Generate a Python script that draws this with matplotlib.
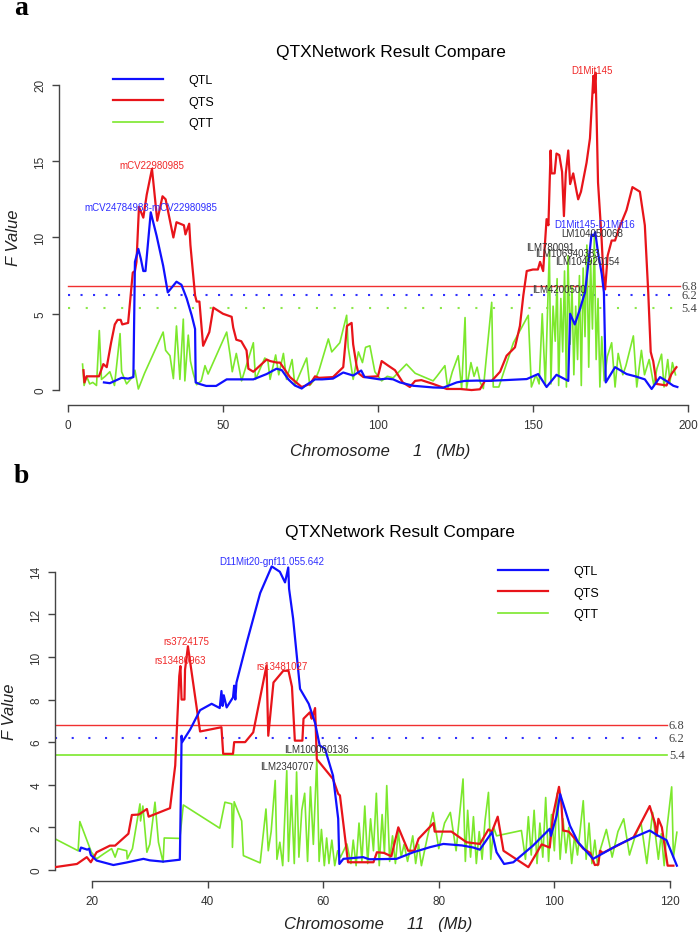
import matplotlib
matplotlib.use("Agg")
import matplotlib.pyplot as plt

plt.rcParams['font.family'] = ['Liberation Sans', 'DejaVu Sans']

W, H = 700, 937

# ---------------- panel a : chromosome 1 ----------------
a_qtl_x = [11.6, 13.5, 16.2, 17.3, 19.4, 21.1, 21.6, 22.7, 23.5, 24.3, 25.0, 26.7, 28.6, 30.7, 32.2,
           33.4, 35.0, 36.6, 38.3, 39.9, 41.0, 41.2, 42.4, 44.6, 47.8, 51.2, 55.0, 59.8, 64.1, 67.3,
           69.0, 71.1, 73.2, 75.4, 77.0, 79.7, 82.0, 85.5, 88.8, 92.0, 94.6, 95.7, 100.6, 103.0, 104.9,
           107.1, 111.4, 117.8, 121.0, 125.4, 128.0, 132.0, 135.0, 141.0, 148.0, 151.7, 154.4, 157.6,
           161.4, 162.0, 163.5, 165.0, 166.8, 168.0, 168.9, 169.6, 170.1, 171.0, 172.2, 172.9, 173.5,
           176.5, 180.2, 183.0, 186.1, 188.3, 191.0, 193.0, 195.3, 196.6]
a_qtl_y = [0.5, 0.45, 0.7, 0.8, 0.75, 0.85, 8.4, 9.25, 8.6, 7.8, 7.8, 11.65, 10.1, 8.15, 6.4,
           6.7, 7.1, 6.9, 6.0, 4.9, 4.0, 0.5, 0.4, 0.27, 0.27, 0.7, 0.7, 0.7, 1.05, 1.4,
           1.3, 0.7, 0.3, 0.1, 0.35, 0.7, 0.7, 0.75, 1.15, 0.95, 1.28, 0.85, 0.7, 0.75, 0.7,
           0.5, 0.28, 0.17, 0.15, 0.5, 0.6, 0.62, 0.6, 0.65, 0.72, 1.05, 0.2, 1.0,
           0.6, 5.0, 4.3, 5.2, 6.4, 8.5, 10.2, 10.1, 10.35, 9.0, 7.6, 6.4, 0.5,
           1.5, 1.05, 0.9, 0.7, 0.07, 0.85, 0.6, 0.28, 0.2]

a_qts_x = [5.0, 5.3, 6.0, 10.0, 11.4, 12.5, 13.9, 15.1, 16.0, 17.0, 17.5, 19.4, 20.9, 21.6, 22.1,
           22.9, 24.3, 25.4, 27.1, 28.8, 30.5, 31.5, 34.0, 35.0, 37.4, 37.9, 39.1, 39.5, 41.0, 41.5,
           42.4, 43.6, 45.6, 46.9, 50.0, 52.8, 53.3, 54.3, 55.9, 57.6, 58.2, 59.8, 63.0, 64.1, 65.2,
           67.4, 68.4, 71.6, 75.4, 78.1, 79.7, 81.0, 85.5, 88.8, 90.0, 91.5, 92.0, 93.1, 93.7, 95.3,
           100.0, 101.2, 103.3, 105.5, 108.0, 110.3, 112.0, 114.0, 117.8, 122.2, 126.5, 130.2, 132.9,
           134.5, 136.7, 139.4, 141.5, 144.2, 145.8, 146.9, 148.0, 150.0, 151.6, 152.3, 153.3, 154.4,
           155.0, 155.7, 156.0, 157.0, 157.6, 158.5, 159.4, 160.0, 160.6, 161.4, 162.0, 163.0, 164.1,
           164.6, 165.5, 167.3, 168.4, 169.5, 169.7, 170.2, 170.5, 171.0, 172.1, 172.7, 173.3, 174.1,
           175.4, 176.5, 177.6, 180.2, 182.1, 184.5, 186.1, 187.2, 188.0, 188.5, 188.8, 189.9, 193.1,
           194.7, 196.3]
a_qts_y = [1.3, 0.5, 0.9, 0.9, 1.7, 1.5, 3.1, 4.3, 4.6, 4.6, 4.3, 4.4, 7.7, 7.8, 8.4,
           12.0, 11.3, 12.8, 14.5, 11.1, 12.7, 12.5, 10.0, 11.0, 10.8, 10.2, 10.9, 9.5, 6.2, 5.8,
           5.8, 2.9, 3.8, 5.4, 5.0, 4.8, 4.1, 3.3, 3.2, 2.6, 1.4, 1.2, 1.8, 2.0, 1.9,
           1.8, 1.8, 0.85, 0.2, 0.4, 0.9, 0.8, 0.85, 1.5, 4.2, 4.4, 3.0, 1.6, 1.1, 0.85,
           0.9, 1.9, 1.6, 1.3, 0.5, 0.2, 0.6, 0.65, 0.4, 0.07, 0.07, 0.0, 0.05,
           0.6, 0.6, 1.2, 2.25, 2.8, 4.2, 6.2, 7.8, 7.9, 7.9, 8.4, 7.8, 11.2,
           10.8, 15.7, 14.2, 14.2, 15.5, 15.4, 14.3, 11.4, 14.2, 15.7, 13.5, 14.2, 13.0,
           12.5, 13.0, 14.9, 16.5, 20.6, 19.5, 20.8, 18.3, 13.6, 10.1, 7.7, 6.6, 8.8,
           9.8, 9.8, 10.5, 11.8, 13.3, 13.0, 10.8, 6.4, 2.5, 2.1, 1.9, 0.4, 0.3,
           1.05, 1.5]

a_qtt_x = [4.7, 5.2, 6.0, 7.0, 8.0, 9.2, 10.1, 10.8, 12.0, 13.5, 15.0, 16.8, 17.3, 18.9, 21.0,
           21.6, 22.7, 24.7, 30.7, 31.5, 32.9, 34.0, 35.0, 36.1, 37.2, 37.7, 38.8, 39.5, 40.4, 41.5,
           43.0, 44.2, 45.2, 51.2, 52.3, 53.0, 54.3, 56.0, 59.8, 60.5, 63.5, 64.5, 65.2, 67.0, 68.0,
           69.5, 70.5, 72.3, 73.2, 77.0, 78.0, 80.0, 81.0, 84.0, 85.1, 87.7, 89.9, 90.4, 92.0, 93.7,
           95.0, 96.0, 97.4, 99.0, 101.2, 103.0, 104.9, 109.2, 112.0, 117.8, 119.0, 121.6, 122.5, 124.0,
           125.9, 127.0, 128.1, 128.6, 130.0, 131.0, 132.0, 133.0, 134.0, 136.7, 137.2, 139.0, 143.7,
           148.5, 149.5, 151.0, 152.0, 153.0, 154.0, 155.3, 155.8, 156.5, 157.2, 157.8, 158.3, 159.0,
           159.6, 160.2, 160.8, 161.3, 162.0, 162.6, 163.2, 163.8, 164.4, 165.0, 165.6, 166.2, 166.8,
           167.4, 168.0, 168.6, 169.2, 169.8, 170.4, 171.0, 171.6, 172.2, 173.0, 174.0, 175.4, 176.5,
           177.5, 179.0, 180.0, 182.4, 183.5, 185.0, 186.0, 187.5, 189.0, 190.0, 191.5, 192.3, 193.5,
           194.2, 195.0, 196.0]
a_qtt_y = [1.7, 0.3, 0.9, 0.4, 0.5, 0.3, 3.9, 0.7, 0.9, 1.2, 0.3, 3.7, 1.2, 0.4, 0.9,
           1.3, 0.07, 1.1, 3.8, 2.6, 2.25, 0.75, 4.2, 0.7, 4.65, 0.6, 3.6, 1.9, 1.1, 0.35,
           0.6, 1.6, 1.05, 3.8, 2.3, 1.2, 2.4, 0.6, 3.1, 0.7, 2.1, 1.9, 0.7, 2.3, 1.0,
           2.4, 0.7, 2.0, 0.3, 2.1, 0.3, 0.8, 1.3, 3.35, 2.5, 3.1, 4.9, 2.8, 0.7, 2.5,
           1.8, 2.8, 2.9, 1.2, 0.6, 0.9, 0.8, 1.7, 1.1, 0.6, 0.9, 1.6, 0.1, 1.2,
           2.25, 0.1, 4.75, 0.1, 1.8, 0.9, 1.5, 0.5, 0.1, 5.75, 0.2, 0.2, 3.1,
           4.9, 0.2, 1.0, 0.4, 5.0, 0.3, 9.2, 0.4, 5.5, 3.2, 7.3, 0.3, 6.0,
           2.5, 7.8, 0.2, 8.8, 3.0, 6.8, 1.0, 5.5, 2.0, 7.5, 0.3, 8.0, 3.5,
           9.5, 1.5, 8.5, 4.0, 10.0, 2.0, 6.0, 0.2, 3.5, 0.6, 2.2, 3.1, 0.2,
           2.4, 1.0, 1.6, 3.55, 0.2, 2.6, 1.0, 2.0, 0.3, 1.4, 2.35, 0.2, 2.0,
           0.5, 1.8, 1.0]

a_thresholds = [6.8, 6.2, 5.4]
a_thr_span = (0.0, 197.5)
a_labels = ["mCV22980985", "mCV24784983-mCV22980985", "D1Mit145", "D1Mit145-D1Mit16",
            "LM104050068", "ILM780091", "ILM106940383", "ILM104920154", "ILM4200500"]
a_label_x = [27.1, 26.6, 169.0, 170.0, 169.0, 155.5, 161.0, 167.7, 158.4]
a_label_y = [14.75, 12.0, 21.0, 10.9, 10.3, 9.4, 9.0, 8.46, 6.6]
a_label_kind = ["QTS", "QTL", "QTS", "QTL", "QTT", "QTT", "QTT", "QTT", "QTT"]

# ---------------- panel b : chromosome 11 ----------------
b_qtl_x = [17.9, 18.1, 19.2, 19.5, 19.8, 20.8, 23.7, 26.0, 28.9, 30.0, 32.3, 35.2, 35.4, 35.5, 35.6,
           37.0, 38.7, 40.7, 42.1, 42.4, 42.6, 42.8, 43.3, 44.4, 44.6, 44.8, 45.0, 46.8, 49.1, 51.1,
           52.5, 53.4, 53.96, 54.1, 54.8, 56.0, 57.5, 58.6, 59.4, 60.3, 61.7, 62.6, 62.8, 63.5, 66.9,
           68.0, 72.7, 75.6, 78.5, 80.8, 84.0, 86.0, 87.1, 89.2, 90.0, 91.3, 92.9, 96.3, 99.2, 99.4,
           100.4, 101.0, 102.7, 104.1, 106.2, 106.7, 110.8, 113.5, 116.5, 118.0, 119.4, 121.2]
b_qtl_y = [0.9, 1.05, 0.95, 1.0, 0.7, 0.44, 0.23, 0.35, 0.52, 0.45, 0.39, 0.48, 3.96, 6.3, 6.0,
           6.6, 7.5, 7.8, 7.6, 8.4, 7.7, 8.2, 7.63, 8.1, 8.65, 8.0, 8.8, 10.7, 13.0, 14.25,
           14.0, 13.5, 14.2, 13.2, 11.8, 8.5, 7.8, 6.9, 5.84, 5.7, 4.43, 2.4, 0.28, 0.52, 0.6,
           0.5, 0.52, 0.83, 1.07, 1.22, 1.15, 1.05, 0.95, 1.77, 0.83, 0.28, 0.36, 1.14, 1.93, 1.6,
           2.55, 3.56, 2.08, 1.3, 0.67, 0.52, 1.14, 1.5, 1.85, 1.6, 1.4, 0.2]

b_qts_x = [13.6, 17.4, 19.1, 19.8, 20.8, 23.1, 24.0, 26.3, 26.9, 28.1, 29.5, 29.8, 33.5, 34.4, 35.1,
           35.3, 35.5, 36.0, 36.1, 36.6, 38.7, 42.4, 42.7, 44.4, 44.6, 46.5, 47.9, 50.2, 50.5, 51.4,
           53.1, 54.0, 54.6, 55.1, 56.4, 56.6, 57.7, 58.0, 58.2, 58.6, 58.9, 61.7, 62.6, 62.9, 64.3,
           68.7, 69.3, 70.5, 71.8, 73.0, 74.7, 75.8, 76.5, 79.1, 79.3, 82.2, 84.8, 87.1, 88.6, 89.2,
           90.2, 91.2, 95.5, 97.8, 99.2, 99.8, 100.8, 101.2, 101.5, 102.5, 103.6, 105.0, 106.2, 107.0,
           107.6, 107.9, 108.4, 113.7, 116.5, 117.4, 117.7, 118.0, 118.6, 119.6, 120.6]
b_qts_y = [0.13, 0.28, 0.6, 0.36, 0.83, 1.14, 1.14, 1.7, 2.58, 2.6, 2.86, 2.5, 2.9, 4.9, 9.1,
           9.57, 8.0, 8.0, 9.4, 10.5, 6.5, 6.7, 5.45, 5.45, 6.0, 6.0, 6.46, 9.6, 6.3, 8.8,
           9.35, 9.35, 8.6, 6.07, 6.07, 7.1, 7.4, 7.1, 7.24, 7.6, 5.2, 4.27, 3.57, 3.5, 0.36,
           0.36, 0.83, 0.8, 0.64, 2.0, 0.9, 0.9, 1.46, 2.2, 1.8, 1.8, 1.3, 1.22, 1.9, 1.8,
           2.5, 0.9, 0.13, 1.2, 1.05, 2.6, 3.9, 3.2, 1.85, 1.8, 1.45, 1.0, 0.8, 0.23,
           0.25, 0.9, 0.8, 1.53, 3.0, 2.2, 1.6, 2.4, 2.0, 0.2, 0.2]

b_qtt_x = [13.6, 17.6, 17.9, 19.9, 20.8, 22.0, 23.4, 24.0, 24.5, 26.0, 26.1, 27.0, 28.0, 28.3, 28.4,
           28.8, 29.5, 30.0, 30.9, 31.5, 32.3, 32.5, 35.2, 35.8, 42.1, 43.0, 44.2, 44.3, 44.6, 45.9,
           46.2, 49.1, 50.1, 50.5, 51.0, 51.7, 52.0, 52.5, 53.0, 53.7, 54.0, 54.5, 55.0, 55.4, 55.8,
           56.3, 56.8, 57.3, 57.8, 58.3, 58.9, 59.3, 59.7, 60.2, 60.6, 61.0, 61.5, 62.0, 62.5, 63.0,
           64.1, 64.8, 65.2, 65.7, 66.2, 66.7, 67.2, 67.7, 68.2, 68.7, 69.2, 69.7, 70.2, 70.6, 71.0,
           71.5, 72.0, 72.5, 73.0, 73.5, 74.0, 74.6, 75.0, 75.5, 76.0, 76.5, 77.0, 78.0, 79.0, 80.0,
           81.0, 82.0, 83.0, 84.2, 84.6, 85.0, 85.5, 86.0, 86.5, 87.0, 87.5, 88.0, 88.6, 89.0, 89.5,
           90.0, 94.3, 95.0, 95.5, 96.0, 96.5, 97.0, 97.5, 98.0, 98.5, 99.0, 99.5, 100.0, 100.5, 101.0,
           101.5, 102.0, 102.5, 103.0, 103.5, 104.0, 105.0, 105.5, 106.0, 106.5, 107.0, 107.5, 108.0,
           109.0, 110.0, 111.0, 112.0, 113.0, 114.0, 115.0, 116.0, 117.0, 118.0, 118.5, 119.0, 119.5,
           120.3, 120.6, 121.2]
b_qtt_y = [1.46, 0.9, 2.27, 0.83, 0.52, 0.75, 1.0, 0.6, 1.0, 0.9, 0.52, 1.0, 2.63, 3.1, 2.3,
           3.0, 0.83, 1.2, 3.18, 1.3, 0.36, 1.5, 1.48, 3.05, 1.96, 3.18, 3.1, 1.06, 3.2, 2.3,
           0.67, 0.33, 2.86, 0.9, 1.8, 4.2, 0.5, 1.3, 0.2, 4.66, 0.4, 3.5, 0.3, 4.6, 0.6,
           2.8, 3.6, 0.4, 3.9, 1.2, 5.2, 0.4, 1.9, 0.2, 1.5, 0.3, 1.4, 0.2, 0.9, 0.6,
           1.22, 0.3, 1.4, 0.2, 2.2, 0.4, 3.0, 0.3, 2.4, 0.9, 3.6, 0.2, 2.6, 0.8, 3.96,
           0.4, 1.6, 0.3, 1.8, 0.6, 1.2, 0.4, 0.9, 1.6, 0.3, 1.2, 0.2, 1.5, 2.7, 1.0,
           2.2, 2.7, 0.9, 4.27, 0.4, 2.8, 0.6, 2.5, 0.3, 1.8, 0.5, 2.3, 3.64, 0.5, 2.0,
           1.6, 1.85, 0.5, 2.5, 0.7, 2.8, 0.3, 2.2, 0.6, 3.4, 0.4, 2.6, 0.9, 3.6, 0.5,
           2.4, 0.8, 2.0, 0.3, 1.6, 0.7, 3.25, 0.5, 2.2, 0.3, 1.4, 0.2, 1.0,
           1.9, 0.6, 1.8, 2.4, 0.7, 1.6, 2.2, 0.3, 2.7, 0.5, 1.7, 0.2, 2.0,
           3.9, 0.6, 1.77]

b_thresholds = [6.8, 6.2, 5.4]
b_thr_span = (13.6, 119.5)
b_labels = ["D11Mit20-gnf11.055.642", "rs3724175", "rs13480963", "rs13481027",
            "ILM100060136", "ILM2340707"]
b_label_x = [51.1, 36.4, 35.2, 52.9, 58.8, 53.7]
b_label_y = [14.5, 10.75, 9.86, 9.58, 5.68, 4.88]
b_label_kind = ["QTL", "QTS", "QTS", "QTS", "QTT", "QTT"]

BLUE, RED, GREEN = '#1010FF', '#E8141A', '#7CE82C'
TXT = {"QTL": '#2D2DFF', "QTS": '#F02828', "QTT": '#333333'}


def fig_box(left, top, right, bottom):
    return [left / W, 1 - bottom / H, (right - left) / W, (bottom - top) / H]


def draw_panel(fig, box, xlim, ylim, xticks, yticks, qtl, qts, qtt, thr, span, thr_styles,
               labels, lx, ly, kinds, legend_anchor):
    ax = fig.add_axes(box)
    ax.set_xlim(*xlim)
    ax.set_ylim(*ylim)
    l1, = ax.plot(*qtl, color=BLUE, lw=1.6, label='QTL', zorder=4)
    l2, = ax.plot(*qts, color=RED, lw=1.6, label='QTS', zorder=3)
    l3, = ax.plot(*qtt, color=GREEN, lw=1.2, label='QTT', zorder=2)
    for val, (col, ls, lw) in zip(thr, thr_styles):
        ax.plot(span, [val, val], color=col, ls=ls, lw=lw, zorder=1)
        ax.text(span[1] + 0.3, val, f"{val}", ha='left', va='center', fontsize=9,
                family='Liberation Serif', color='#444444', clip_on=False)
    for name, x, y, k in zip(labels, lx, ly, kinds):
        ax.text(x, y, name, ha='center', va='center', fontsize=7, color=TXT[k], zorder=6)
    for s in ('top', 'right'):
        ax.spines[s].set_visible(False)
    ax.spines['left'].set_bounds(yticks[0], yticks[-1])
    ax.spines['bottom'].set_bounds(xticks[0], xticks[-1])
    for s in ('left', 'bottom'):
        ax.spines[s].set_color('#444444')
        ax.spines[s].set_linewidth(1.0)
    ax.set_xticks(xticks)
    ax.set_yticks(yticks)
    ax.tick_params(length=5, width=1.0, color='#444444', labelsize=8.5, labelcolor='#333333')
    ax.tick_params(axis='x', pad=5)
    ax.tick_params(axis='y', pad=4)
    for t in ax.get_yticklabels():
        t.set_rotation(90)
        t.set_va('center')
    ax.legend(handles=[l1, l2, l3], loc='upper left', bbox_to_anchor=legend_anchor,
              bbox_transform=fig.transFigure, frameon=False, fontsize=9,
              handlelength=4.0, handletextpad=2.0, labelspacing=0.78, borderpad=0,
              borderaxespad=0)
    return ax


fig = plt.figure(figsize=(W / 100, H / 100), dpi=100)
fig.patch.set_facecolor('white')

draw_panel(fig, fig_box(59, 63, 700, 406), (-2.9, 203.9), (-0.98, 21.5),
           [0, 50, 100, 150, 200], [0, 5, 10, 15, 20],
           (a_qtl_x, a_qtl_y), (a_qts_x, a_qts_y), (a_qtt_x, a_qtt_y),
           a_thresholds, a_thr_span,
           [('#F03030', '-', 1.0), ('#3030FF', (0, (1, 5)), 1.5), ('#8CE84A', (0, (1, 7.5)), 1.5)],
           a_labels, a_label_x, a_label_y, a_label_kind, (113 / W, 1 - 75 / H))

draw_panel(fig, fig_box(55, 554, 700, 882), (13.6, 125.2), (-0.52, 14.88),
           [20, 40, 60, 80, 100, 120], [0, 2, 4, 6, 8, 10, 12, 14],
           (b_qtl_x, b_qtl_y), (b_qts_x, b_qts_y), (b_qtt_x, b_qtt_y),
           b_thresholds, b_thr_span,
           [('#F03030', '-', 1.0), ('#3030FF', (0, (1, 7)), 1.5), ('#7CE82C', '-', 1.2)],
           b_labels, b_label_x, b_label_y, b_label_kind, (498 / W, 1 - 566 / H))

# titles, axis labels and panel letters
fig.text(391 / W, 1 - 53 / H, "QTXNetwork Result Compare", ha='center', va='center', fontsize=12.5)
fig.text(400 / W, 1 - 533 / H, "QTXNetwork Result Compare", ha='center', va='center', fontsize=12.5)
fig.text(380 / W, 1 - 452 / H, "Chromosome     1   (Mb)", ha='center', va='center',
         fontsize=12, style='italic', color='#222222')
fig.text(378 / W, 1 - 925 / H, "Chromosome     11   (Mb)", ha='center', va='center',
         fontsize=12, style='italic', color='#222222')
fig.text(14 / W, 1 - 238 / H, "F Value", ha='center', va='center', rotation=90,
         fontsize=12, style='italic', color='#222222')
fig.text(10 / W, 1 - 712 / H, "F Value", ha='center', va='center', rotation=90,
         fontsize=12, style='italic', color='#222222')
fig.text(21 / W, 1 - 15 / H, "a", ha='center', va='baseline', fontsize=20,
         family='Liberation Serif', weight='bold')
fig.text(21 / W, 1 - 483 / H, "b", ha='center', va='baseline', fontsize=20,
         family='Liberation Serif', weight='bold')

fig.savefig("out.png", dpi=100)
